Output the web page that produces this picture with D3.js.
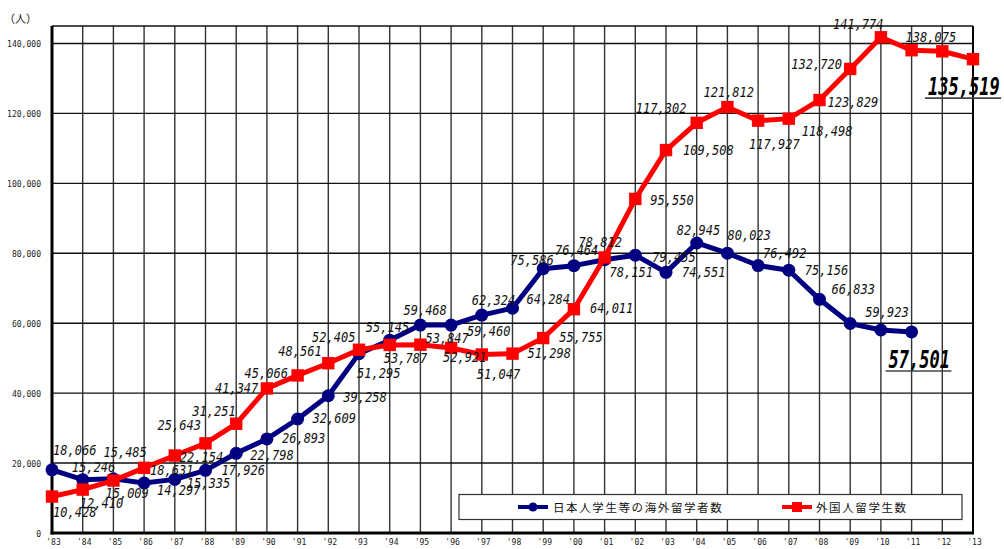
<!DOCTYPE html>
<html lang="ja">
<head>
<meta charset="utf-8">
<script src="https://cdn.jsdelivr.net/npm/d3@7"></script>
<style>
  html, body { margin: 0; padding: 0; background: #fff; }
  svg { display: block; }
</style>
</head>
<body>
<svg id="chart" width="1004" height="549"></svg>
<script>
// Year categories 1983–2013
const years = ["83","84","85","86","87","88","89","90","91","92","93","94","95","96","97",
               "98","99","00","01","02","03","04","05","06","07","08","09","10","11","12","13"];

// 日本人学生等の海外留学者数 (1983–2011)
const japaneseAbroad = [18066, 15246, 15485, 14297, 15335, 17926, 22798, 26893, 32609, 39258,
                        51295, 55145, 59468, 59460, 62324, 64284, 75586, 76464, 78151, 79455,
                        74551, 82945, 80023, 76492, 75156, 66833, 59923, 58060, 57501];

// 外国人留学生数 (1983–2013)
const foreignStudents = [10428, 12410, 15009, 18631, 22154, 25643, 31251, 41347, 45066, 48561,
                         52405, 53787, 53847, 52921, 51047, 51298, 55755, 64011, 78812, 95550,
                         109508, 117302, 121812, 117927, 118498, 123829, 132720, 141774, 138075,
                         137756, 135519];

const yTicks = [0, 20000, 40000, 60000, 80000, 100000, 120000, 140000];
const seriesNames = ["日本人学生等の海外留学者数", "外国人留学生数"];
const unitLabel = "（人）";

// Value-label placement relative to each point [dx, dy]; null = no label
const japaneseLabelOffsets = [
  [1,-15],[-11,-8],[-10,-22],[13,12],[12,9],[16,5],[14,7],[15,4],[15,4],[15,6],
  [-2,24],[-24,-8],[-17,-10],[16,11],[-10,-10],[14,-4],[-33,-4],[-19,-11],[5,17],[17,7],
  [16,5],[-20,-8],[0,-13],[5,-8],[16,5],[12,-5],[15,-6],null,"big"
];
const foreignLabelOffsets = [
  [1,20],[-3,18],[-8,17],[6,7],[5,6],[-48,-13],[-44,-8],[-52,5],[-53,3],[-50,-7],
  [-47,-8],[-6,18],[5,-2],[-8,14],[-5,24],[15,4],[16,4],[16,4],[-26,-10],[15,6],
  [17,5],[-61,-10],[-24,-10],[-9,28],[13,17],[8,7],[-59,0],[-48,-8],[-6,-8],null,"big"
];

const svg = d3.select("#chart");
const plotLeft = 52, plotRight = 973, plotTop = 26, plotBottom = 533;

const x = d3.scalePoint().domain(years).range([plotLeft, plotRight]);
const y = d3.scaleLinear().domain([0, 145000]).range([plotBottom, plotTop]);
const fmt = d3.format(",");

const numFont = "'DejaVu Sans Mono', 'Liberation Mono', monospace";

// Vertical grid lines (one per year)
svg.append("g")
  .selectAll("line")
  .data(years)
  .join("line")
  .attr("x1", d => x(d)).attr("x2", d => x(d))
  .attr("y1", plotTop).attr("y2", plotBottom)
  .attr("stroke", "#333").attr("stroke-width", 1.4);

// Horizontal grid lines + top border
svg.append("g")
  .selectAll("line")
  .data(yTicks.concat([145000]))
  .join("line")
  .attr("x1", plotLeft).attr("x2", plotRight)
  .attr("y1", d => y(d)).attr("y2", d => y(d))
  .attr("stroke", "#111").attr("stroke-width", 1.4);

// Right border
svg.append("line")
  .attr("x1", plotRight).attr("x2", plotRight).attr("y1", plotTop).attr("y2", plotBottom)
  .attr("stroke", "#000").attr("stroke-width", 2);

// Y axis
const yAxis = svg.append("g")
  .attr("transform", `translate(${plotLeft},0)`)
  .call(d3.axisLeft(y).tickValues(yTicks).tickSize(0).tickPadding(11).tickFormat(fmt));
yAxis.select(".domain").remove();
yAxis.selectAll("text")
  .attr("font-family", numFont).attr("font-size", 9.5).attr("fill", "#222")
  .each(function () {
    const t = d3.select(this);
    const tx = +t.attr("x");
    t.attr("x", null).attr("transform", `translate(${tx},0) scale(0.85,1)`);
  });

// X axis
const xAxis = svg.append("g")
  .attr("transform", `translate(0,${plotBottom})`)
  .call(d3.axisBottom(x).tickSize(0).tickPadding(10).tickFormat(d => "'" + d));
xAxis.select(".domain").remove();
xAxis.selectAll("text")
  .attr("font-family", numFont).attr("font-size", 9.5).attr("fill", "#222")
  .each(function () {
    const t = d3.select(this);
    const ty = +t.attr("y");
    t.attr("y", null).attr("dy", null)
     .attr("transform", `translate(1,${ty + 2}) scale(0.85,1)`);
  });

// Thick left and bottom axis lines
svg.append("line").attr("x1", plotLeft).attr("x2", plotLeft).attr("y1", plotTop).attr("y2", plotBottom + 1.5)
  .attr("stroke", "#000").attr("stroke-width", 3);
svg.append("line").attr("x1", plotLeft - 1.5).attr("x2", plotRight + 1).attr("y1", plotBottom).attr("y2", plotBottom)
  .attr("stroke", "#000").attr("stroke-width", 3);

// Unit label
svg.append("text")
  .attr("x", 4).attr("y", 23)
  .attr("font-family", "'Noto Sans CJK JP', sans-serif").attr("font-size", 11)
  .attr("fill", "#222")
  .text(unitLabel);

// Legend
const legend = svg.append("g");
legend.append("rect")
  .attr("x", 459).attr("y", 494.5).attr("width", 503).attr("height", 25)
  .attr("fill", "#fff").attr("stroke", "#333").attr("stroke-width", 1.2);

const blue = "#000080", red = "#ff0000";

legend.append("line").attr("x1", 518).attr("x2", 548).attr("y1", 507).attr("y2", 507)
  .attr("stroke", blue).attr("stroke-width", 4);
legend.append("circle").attr("cx", 533).attr("cy", 507).attr("r", 4.5).attr("fill", blue);
legend.append("text").attr("x", 553).attr("y", 512)
  .attr("font-family", "'Noto Sans CJK JP', sans-serif").attr("font-size", 11.5)
  .attr("letter-spacing", 1.6).attr("fill", "#111").text(seriesNames[0]);

legend.append("line").attr("x1", 782).attr("x2", 812).attr("y1", 507).attr("y2", 507)
  .attr("stroke", red).attr("stroke-width", 4);
legend.append("rect").attr("x", 792).attr("y", 502).attr("width", 10).attr("height", 10).attr("fill", red);
legend.append("text").attr("x", 816).attr("y", 512)
  .attr("font-family", "'Noto Sans CJK JP', sans-serif").attr("font-size", 11.5)
  .attr("letter-spacing", 1.6).attr("fill", "#111").text(seriesNames[1]);

// Series lines and markers
const line = d3.line().x((d, i) => x(years[i])).y(d => y(d));

svg.append("path").datum(japaneseAbroad)
  .attr("d", line).attr("fill", "none").attr("stroke", blue).attr("stroke-width", 5)
  .attr("stroke-linejoin", "round");
svg.append("g").selectAll("circle")
  .data(japaneseAbroad)
  .join("circle")
  .attr("cx", (d, i) => x(years[i])).attr("cy", d => y(d)).attr("r", 6.5)
  .attr("fill", blue);

svg.append("path").datum(foreignStudents)
  .attr("d", line).attr("fill", "none").attr("stroke", red).attr("stroke-width", 5)
  .attr("stroke-linejoin", "miter");
svg.append("g").selectAll("rect")
  .data(foreignStudents)
  .join("rect")
  .attr("x", (d, i) => x(years[i]) - 6.2).attr("y", d => y(d) - 6.2)
  .attr("width", 12.4).attr("height", 12.4)
  .attr("fill", red);

// Value labels
function drawLabels(values, offsets, bigOffset) {
  const g = svg.append("g");
  values.forEach((v, i) => {
    const off = offsets[i];
    if (!off) return;
    const px = x(years[i]), py = y(v);
    if (off === "big") {
      const lx = px + bigOffset[0], ly = py + bigOffset[1];
      const txt = fmt(v);
      g.append("text")
        .attr("transform", `translate(${lx},${ly}) scale(0.71,1)`)
        .attr("font-family", numFont).attr("font-size", 24)
        .attr("font-weight", "bold").attr("font-style", "italic")
        .attr("fill", "#000").text(txt);
      g.append("line")
        .attr("x1", lx - 3).attr("x2", lx + txt.length * 10.3 + 1)
        .attr("y1", ly + 3).attr("y2", ly + 3)
        .attr("stroke", "#444").attr("stroke-width", 1.6);
      return;
    }
    g.append("text")
      .attr("transform", `translate(${px + off[0]},${py + off[1]}) scale(0.86,1)`)
      .attr("font-family", numFont).attr("font-size", 14)
      .attr("font-style", "italic").attr("fill", "#111")
      .text(fmt(v));
  });
}
drawLabels(japaneseAbroad, japaneseLabelOffsets, [-23, 36]);
drawLabels(foreignStudents, foreignLabelOffsets, [-45, 36]);
</script>
</body>
</html>
